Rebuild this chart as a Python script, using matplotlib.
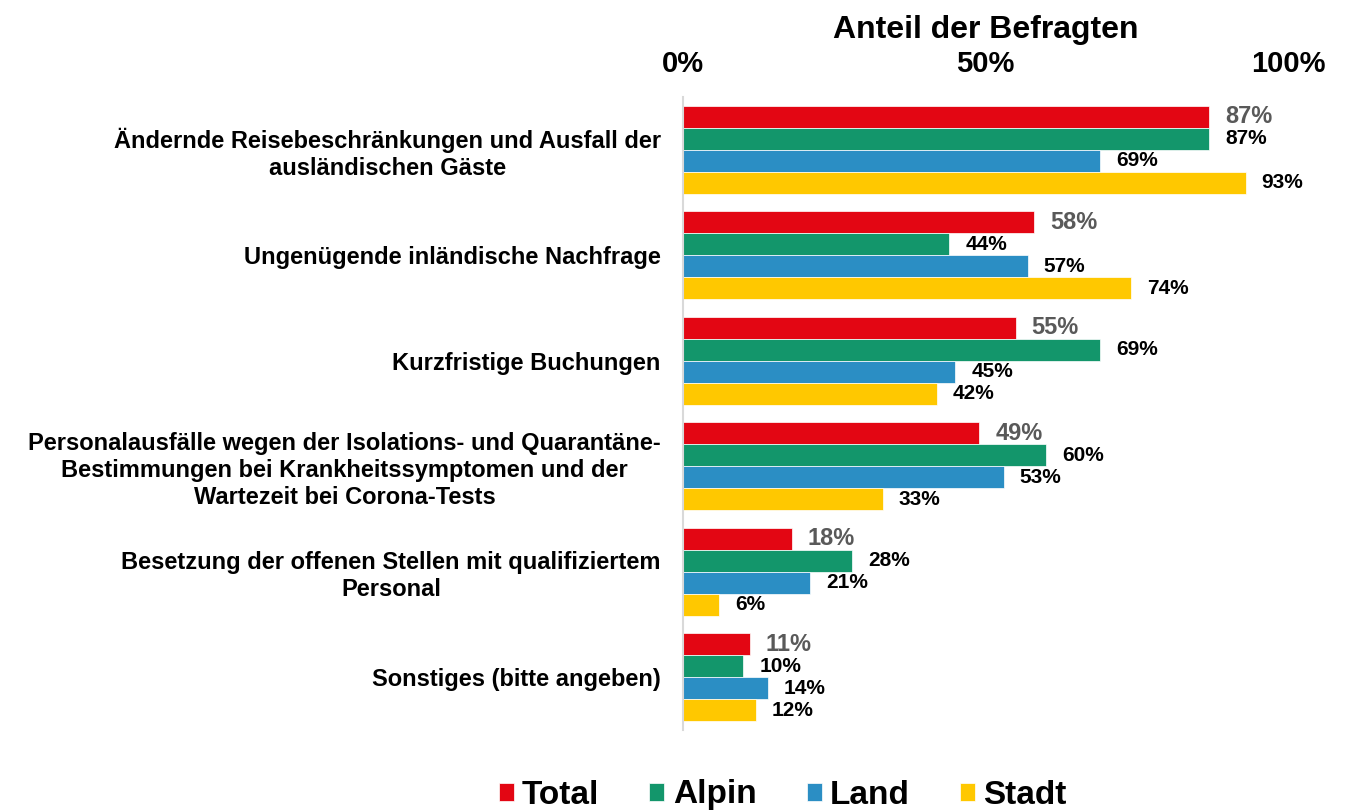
import matplotlib
matplotlib.use("Agg")
import matplotlib.pyplot as plt
import numpy as np

plt.rcParams['font.family'] = ['Liberation Sans', 'DejaVu Sans']

categories = [
    "Ändernde Reisebeschränkungen und Ausfall der\nausländischen Gäste",
    "Ungenügende inländische Nachfrage",
    "Kurzfristige Buchungen",
    "Personalausfälle wegen der Isolations- und Quarantäne-\nBestimmungen bei Krankheitssymptomen und der\nWartezeit bei Corona-Tests",
    "Besetzung der offenen Stellen mit qualifiziertem\nPersonal",
    "Sonstiges (bitte angeben)",
]
series_names = ["Total", "Alpin", "Land", "Stadt"]
total = [87, 58, 55, 49, 18, 11]
alpin = [87, 44, 69, 60, 28, 10]
land = [69, 57, 45, 53, 21, 14]
stadt = [93, 74, 42, 33, 6, 12]
colors = ["#E30613", "#13966B", "#2B8EC4", "#FFC800"]
xticks = [0, 50, 100]
xtick_labels = ["0%", "50%", "100%"]

fig = plt.figure(figsize=(13.47, 8.10), dpi=100)
ax = fig.add_axes([683/1347, 1-730/810, (1288-683)/1347, (730-97)/810])

bar_h = 0.209
y = np.arange(len(categories))
data = [total, alpin, land, stadt]
handles = []
for k, (vals, col, name) in enumerate(zip(data, colors, series_names)):
    ypos = y - 1.5*bar_h + k*bar_h
    b = ax.barh(ypos, vals, height=bar_h, color=col, label=name, edgecolor='white', linewidth=0.5)
    handles.append(b)
    for yy, v in zip(ypos, vals):
        if k == 0:
            ax.annotate(f"{v}%", (v, yy), xytext=(16, 0), textcoords='offset pixels',
                        ha='left', va='center', fontsize=17, fontweight='bold', color='#595959')
        else:
            ax.annotate(f"{v}%", (v, yy), xytext=(16, 0), textcoords='offset pixels',
                        ha='left', va='center', fontsize=15, fontweight='bold', color='black')

ax.set_xlim(0, 100)
ax.set_ylim(len(categories)-0.5, -0.5)
ax.xaxis.tick_top()
ax.set_xticks(xticks)
ax.set_xticklabels(xtick_labels, fontsize=21, fontweight='bold')
ax.tick_params(axis='x', length=0, pad=14)
ax.set_xlabel("Anteil der Befragten", fontsize=23, fontweight='bold', labelpad=8)
ax.xaxis.set_label_position('top')
ax.set_yticks(y)
ax.set_yticklabels(categories, fontsize=17, fontweight='bold', multialignment='center',
                   linespacing=1.22)
ax.tick_params(axis='y', length=0, pad=16)
for s in ['top', 'right', 'bottom']:
    ax.spines[s].set_visible(False)
ax.spines['left'].set_color('#D9D9D9')
ax.spines['left'].set_linewidth(1.5)

fig.legend(handles, series_names, loc='center', bbox_to_anchor=(0.581, 1-795/810), ncol=4,
           frameon=False, prop={'size': 24, 'weight': 'bold'}, handlelength=0.45, handleheight=0.45,
           columnspacing=1.5, handletextpad=0.25)

fig.savefig("out.png", dpi=100)
